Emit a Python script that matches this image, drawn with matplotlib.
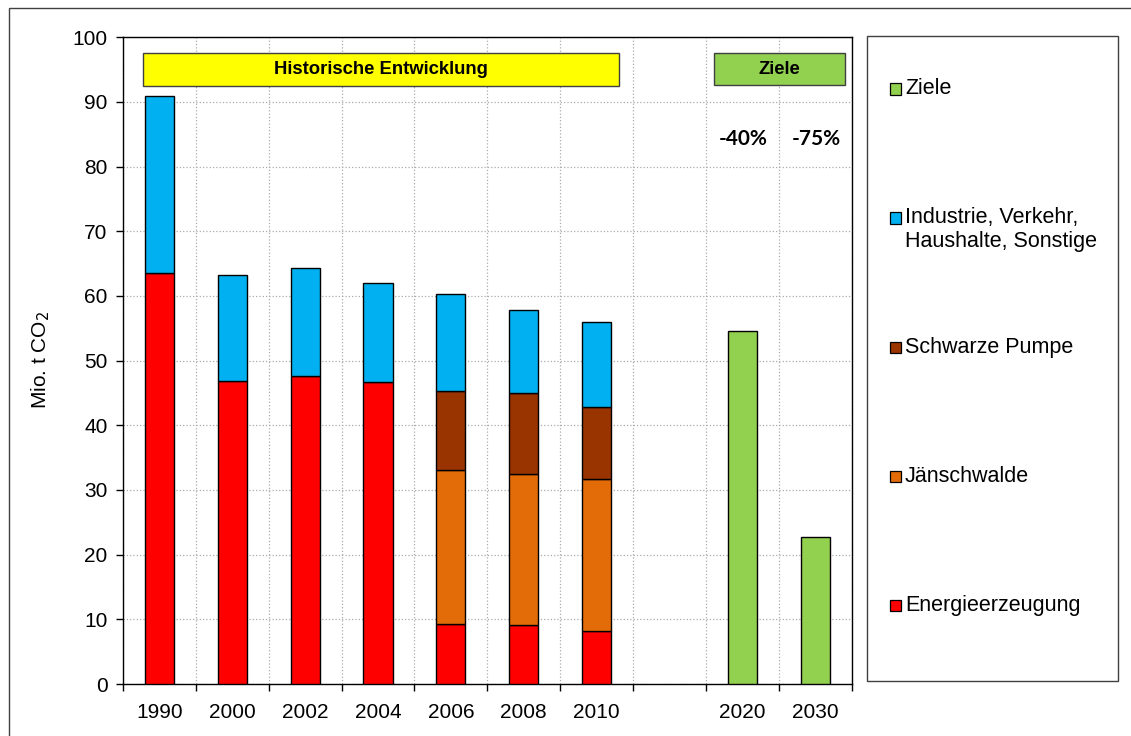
import numpy as np
import matplotlib.pyplot as plt
from matplotlib.patches import Rectangle

# Data (Mio. t CO2)
years = ['1990', '2000', '2002', '2004', '2006', '2008', '2010', '', '2020', '2030']
energie = [63.6, 46.9, 47.7, 46.7, 9.3, 9.1, 8.2, 0, 0, 0]
jaenschwalde = [0, 0, 0, 0, 23.8, 23.4, 23.5, 0, 0, 0]
schwarze_pumpe = [0, 0, 0, 0, 12.2, 12.5, 11.1, 0, 0, 0]
industrie = [27.4, 16.3, 16.6, 15.3, 15.0, 12.9, 13.1, 0, 0, 0]
ziele = [0, 0, 0, 0, 0, 0, 0, 0, 54.6, 22.8]
ziele_labels = ['-40%', '-75%']

col_energie = '#FF0000'
col_jaensch = '#E36C09'
col_schwarze = '#993300'
col_industrie = '#00B0F0'
col_ziele = '#92D050'

plt.rcParams['font.family'] = ['Liberation Sans', 'DejaVu Sans']

W, H = 1131, 736
fig = plt.figure(figsize=(W / 100, H / 100), dpi=100)
ax = fig.add_axes([123 / W, 1 - 684 / H, (851.5 - 123) / W, (684 - 37.3) / H])

x = np.arange(len(years))
bw = 0.4
kw = dict(width=bw, edgecolor='black', linewidth=1.0, zorder=3)
e = np.array(energie)
j = np.array(jaenschwalde)
s = np.array(schwarze_pumpe)
i = np.array(industrie)
ax.bar(x[:7], e[:7], color=col_energie, **kw)
ax.bar(x[4:7], j[4:7], bottom=e[4:7], color=col_jaensch, **kw)
ax.bar(x[4:7], s[4:7], bottom=(e + j)[4:7], color=col_schwarze, **kw)
ax.bar(x[:7], i[:7], bottom=(e + j + s)[:7], color=col_industrie, **kw)
ax.bar(x[8:], np.array(ziele)[8:], color=col_ziele, **kw)

ax.set_xlim(-0.5, len(years) - 0.5)
ax.set_ylim(0, 100)
ax.set_yticks(np.arange(0, 101, 10))
ax.set_xticks(x)
ax.set_xticklabels(years)
ax.set_xticks(np.arange(-0.5, len(years)), minor=True)
ax.tick_params(axis='x', which='major', length=0, labelsize=15, pad=14)
ax.tick_params(axis='x', which='minor', length=5, width=1, direction='out')
ax.tick_params(axis='y', length=5, width=1, direction='out', labelsize=15, pad=6)
ax.grid(axis='x', which='minor', color='#ABABAB', linestyle=':', linewidth=0.9, zorder=0)
ax.grid(axis='y', which='major', color='#ABABAB', linestyle=':', linewidth=0.9, zorder=0)
for sp in ax.spines.values():
    sp.set_color('black')
    sp.set_linewidth(1.0)

# header boxes
ax.add_patch(Rectangle((-0.225, 92.5), 6.54, 5.1, facecolor='#FFFF00',
                       edgecolor='#404040', linewidth=1.0, zorder=4))
ax.text(-0.225 + 6.54 / 2, 95.05, 'Historische Entwicklung', ha='center', va='center',
        fontsize=13.3, fontweight='bold', zorder=5)
ax.add_patch(Rectangle((7.61, 92.6), 1.8, 4.9, facecolor=col_ziele,
                       edgecolor='#404040', linewidth=1.0, zorder=4))
ax.text(7.61 + 0.9, 95.05, 'Ziele', ha='center', va='center',
        fontsize=13.3, fontweight='bold', zorder=5)
for xi, lab in zip(x[8:], ziele_labels):
    ax.text(xi + 0.02, 84.3, lab, ha='center', va='center', fontsize=15,
            fontweight='bold', family=['Lato', 'DejaVu Sans'], zorder=5)

# y label
fig.text(41 / W, 1 - 360 / H, 'Mio. t CO$_2$', rotation=90, ha='center', va='center',
         fontsize=15)

# legend box
lx0, lx1, ly0, ly1 = 867.5, 1118, 36, 681
fig.add_artist(Rectangle((lx0 / W, 1 - ly1 / H), (lx1 - lx0) / W, (ly1 - ly0) / H,
                         transform=fig.transFigure, facecolor='white',
                         edgecolor='#404040', linewidth=1.0))
entries = [('Ziele', col_ziele, 89),
           ('Industrie, Verkehr,', col_industrie, 218),
           ('Schwarze Pumpe', col_schwarze, 347),
           ('Jänschwalde', col_jaensch, 476.5),
           ('Energieerzeugung', col_energie, 605)]
for lab, col, yy in entries:
    fig.add_artist(Rectangle((889.5 / W, 1 - (yy + 5.5) / H), 11 / W, 11 / H,
                             transform=fig.transFigure, facecolor=col,
                             edgecolor='black', linewidth=0.9))
    fig.text(905 / W, 1 - yy / H, lab, ha='left', va='center', fontsize=15.5)
fig.text(905 / W, 1 - 242 / H, 'Haushalte, Sonstige', ha='left', va='center', fontsize=15.5)

# outer frame
fig.add_artist(Rectangle((9 / W, -0.5), 2, (1 - 8 / H) + 0.5, transform=fig.transFigure,
                         facecolor='none', edgecolor='#404040', linewidth=1.0))

fig.savefig('out.png', dpi=100)
